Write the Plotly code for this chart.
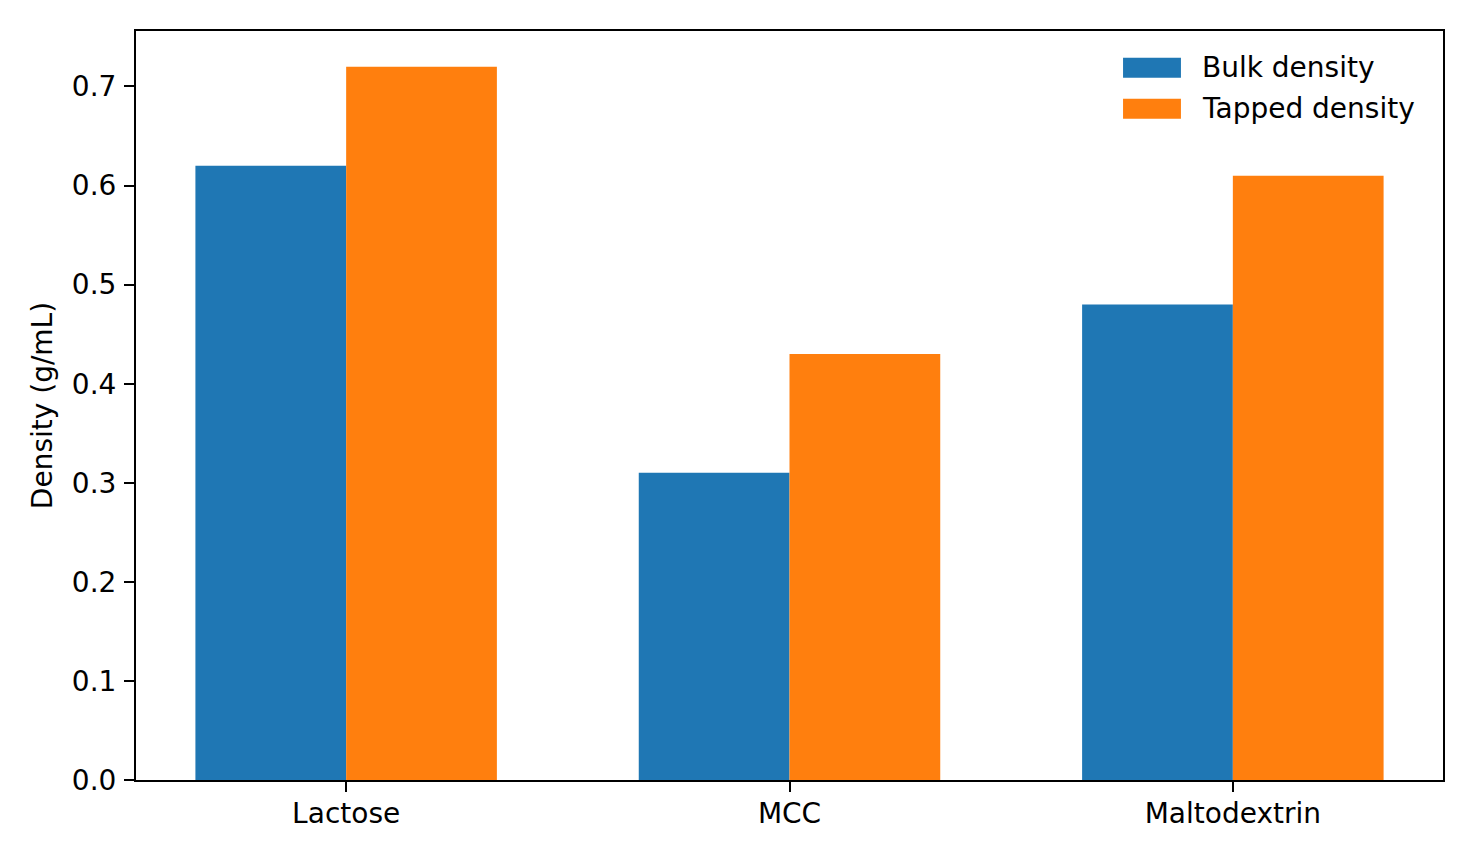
import plotly.graph_objects as go

# Data
materials = ["Lactose", "MCC", "Maltodextrin"]
bulk_density = [0.62, 0.31, 0.48]
tapped_density = [0.72, 0.43, 0.61]
series_names = ["Bulk density", "Tapped density"]
colors = ["#1f77b4", "#ff7f0e"]

bar_w = 0.34
xpos = list(range(len(materials)))
font = dict(family="DejaVu Sans", size=28, color="black")

fig = go.Figure()
# bars (bulk to the left of the tick, tapped to the right)
fig.add_bar(x=xpos, y=bulk_density, width=bar_w, offset=-bar_w, name=series_names[0],
            marker=dict(color=colors[0], line_width=0), showlegend=False)
fig.add_bar(x=xpos, y=tapped_density, width=bar_w, offset=0, name=series_names[1],
            marker=dict(color=colors[1], line_width=0), showlegend=False)

# matplotlib-like legend: wide patches + labels, in paper coords
leg_x0, leg_x1, txt_x = 0.7552, 0.7995, 0.8141
row_top, row_h, row_step = 0.9644, 0.0267, 0.0548
for i, (name, c) in enumerate(zip(series_names, colors)):
    top = row_top - i * row_step
    fig.add_shape(type="rect", xref="paper", yref="paper",
                  x0=leg_x0, x1=leg_x1, y0=top - row_h, y1=top,
                  fillcolor=c, line_width=0)
    fig.add_annotation(xref="paper", yref="paper", x=txt_x, y=top - row_h / 2,
                       text=name, showarrow=False, xanchor="left", yanchor="middle",
                       font=font)

axis_style = dict(showline=True, linecolor="black", linewidth=2, mirror=True,
                  ticks="outside", ticklen=10, tickwidth=2, tickcolor="black",
                  showgrid=False, zeroline=False, tickfont=font)

fig.update_layout(
    width=1474, height=860,
    margin=dict(l=128, r=39, t=23, b=88),
    plot_bgcolor="white", paper_bgcolor="white",
    font=font,
    barmode="overlay",
    showlegend=False,
    xaxis=dict(range=[-0.474, 2.474], tickvals=xpos, ticktext=materials,
               ticklabelstandoff=-3, **axis_style),
    yaxis=dict(range=[0, 0.756], dtick=0.1, tickformat=".1f", ticklabelstandoff=2,
               title=dict(text="Density (g/mL)", font=font, standoff=11), **axis_style),
)

fig.write_html("out.html")
